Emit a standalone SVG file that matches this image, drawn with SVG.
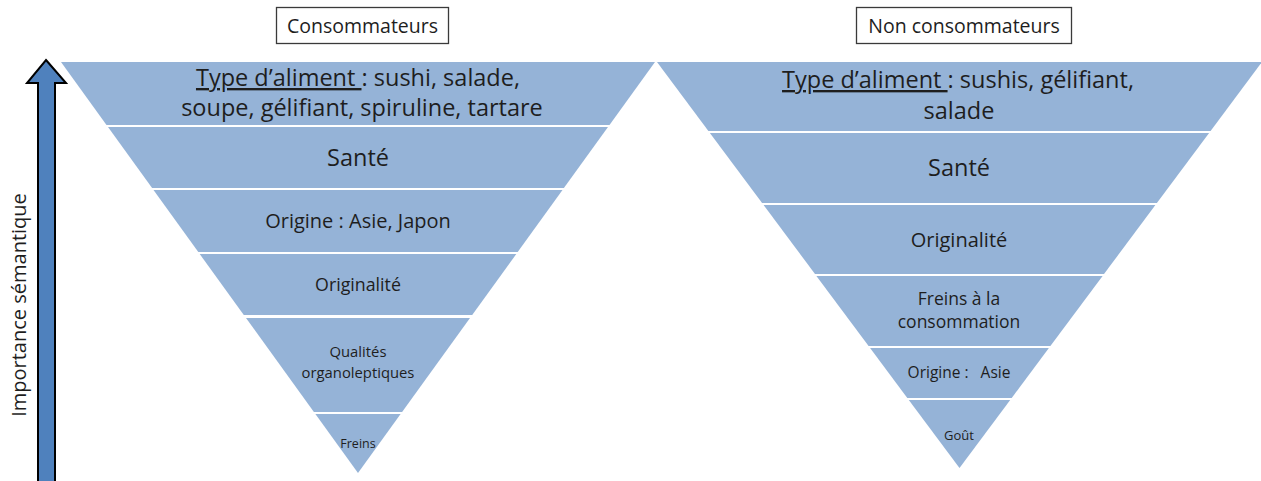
<svg xmlns="http://www.w3.org/2000/svg" width="1261" height="481" viewBox="0 0 1261 481">
<style>
.band{fill:#95B3D7;}
.t{font-family:"Open Sans","Liberation Sans",sans-serif;fill:#1e1e1e;text-anchor:middle;white-space:pre;}
.lbl{fill:#fff;stroke:#3a3a3a;stroke-width:1.3;}
.u{text-decoration:underline;}
</style>
<rect width="1261" height="481" fill="#fff"/>
<g id="label-consommateurs">
<rect class="lbl" x="276.5" y="7.5" width="172" height="36"/>
<text class="t" x="362.5" y="33" font-size="19.5">Consommateurs</text>
</g>
<g id="label-non-consommateurs">
<rect class="lbl" x="856.5" y="7.5" width="215" height="36"/>
<text class="t" x="964" y="33" font-size="19.5">Non consommateurs</text>
</g>
<g id="axis-arrow">
<path d="M46,60 L66,83 L55,83 L55,492 L38,492 L38,83 L27,83 Z" fill="#4F81BD" stroke="#000" stroke-width="2" stroke-linejoin="miter"/>
<text class="t" x="26" y="305" font-size="20" fill="#111" transform="rotate(-90 26 305)">Importance sémantique</text>
</g>
<g id="connectors"></g>
<g id="c1">
<polygon class="band" points="61,62 655,62 609.5,125 106.5,125"/>
<text class="t" x="358" y="86" font-size="23.5"><tspan class="u">Type d’aliment </tspan>: sushi, salade,</text>
<text class="t" x="362" y="116" font-size="23.5">soupe, gélifiant, spiruline, tartare</text>
</g>
<g id="c2">
<polygon class="band" points="108,127 608,127 563.9,188 152.1,188"/>
<text class="t" x="358" y="166" font-size="23.5">Santé</text>
</g>
<g id="c3">
<polygon class="band" points="153.5,190 562.5,190 517.7,252 198.3,252"/>
<text class="t" x="358" y="228" font-size="20">Origine : Asie, Japon</text>
</g>
<g id="c4">
<polygon class="band" points="199.7,254 516.3,254 472.2,315 243.8,315"/>
<text class="t" x="358" y="291" font-size="17.8">Originalité</text>
</g>
<g id="c5">
<polygon class="band" points="246,318 470,318 402.1,412 313.9,412"/>
<text class="t" x="358" y="357" font-size="14.8">Qualités</text>
<text class="t" x="358" y="378" font-size="14.8">organoleptiques</text>
</g>
<g id="c6">
<polygon class="band" points="315.4,414 400.6,414 358,473"/>
<text class="t" x="358" y="448" font-size="12.5">Freins</text>
</g>
<g id="n1">
<polygon class="band" points="657,62 1262,62 1210.6,131 708.4,131"/>
<text class="t" x="958" y="88" font-size="23.5"><tspan class="u">Type d’aliment </tspan>: sushis, gélifiant,</text>
<text class="t" x="959" y="119" font-size="23.5">salade</text>
</g>
<g id="n2">
<polygon class="band" points="709.9,133 1209.1,133 1156.9,203 762.1,203"/>
<text class="t" x="959" y="176" font-size="23.5">Santé</text>
</g>
<g id="n3">
<polygon class="band" points="763.6,205 1155.4,205 1104,274 815,274"/>
<text class="t" x="959" y="247" font-size="20">Originalité</text>
</g>
<g id="n4">
<polygon class="band" points="816.4,276 1102.6,276 1050.4,346 868.6,346"/>
<text class="t" x="959" y="305" font-size="17.5">Freins à la</text>
<text class="t" x="959" y="328" font-size="17.5">consommation</text>
</g>
<g id="n5">
<polygon class="band" points="870.1,348 1048.9,348 1011.7,398 907.3,398"/>
<text class="t" x="959" y="378" font-size="15.5">Origine :   Asie</text>
</g>
<g id="n6">
<polygon class="band" points="908.8,400 1010.2,400 959.5,468"/>
<text class="t" x="959" y="440" font-size="13">Goût</text>
</g>
</svg>
